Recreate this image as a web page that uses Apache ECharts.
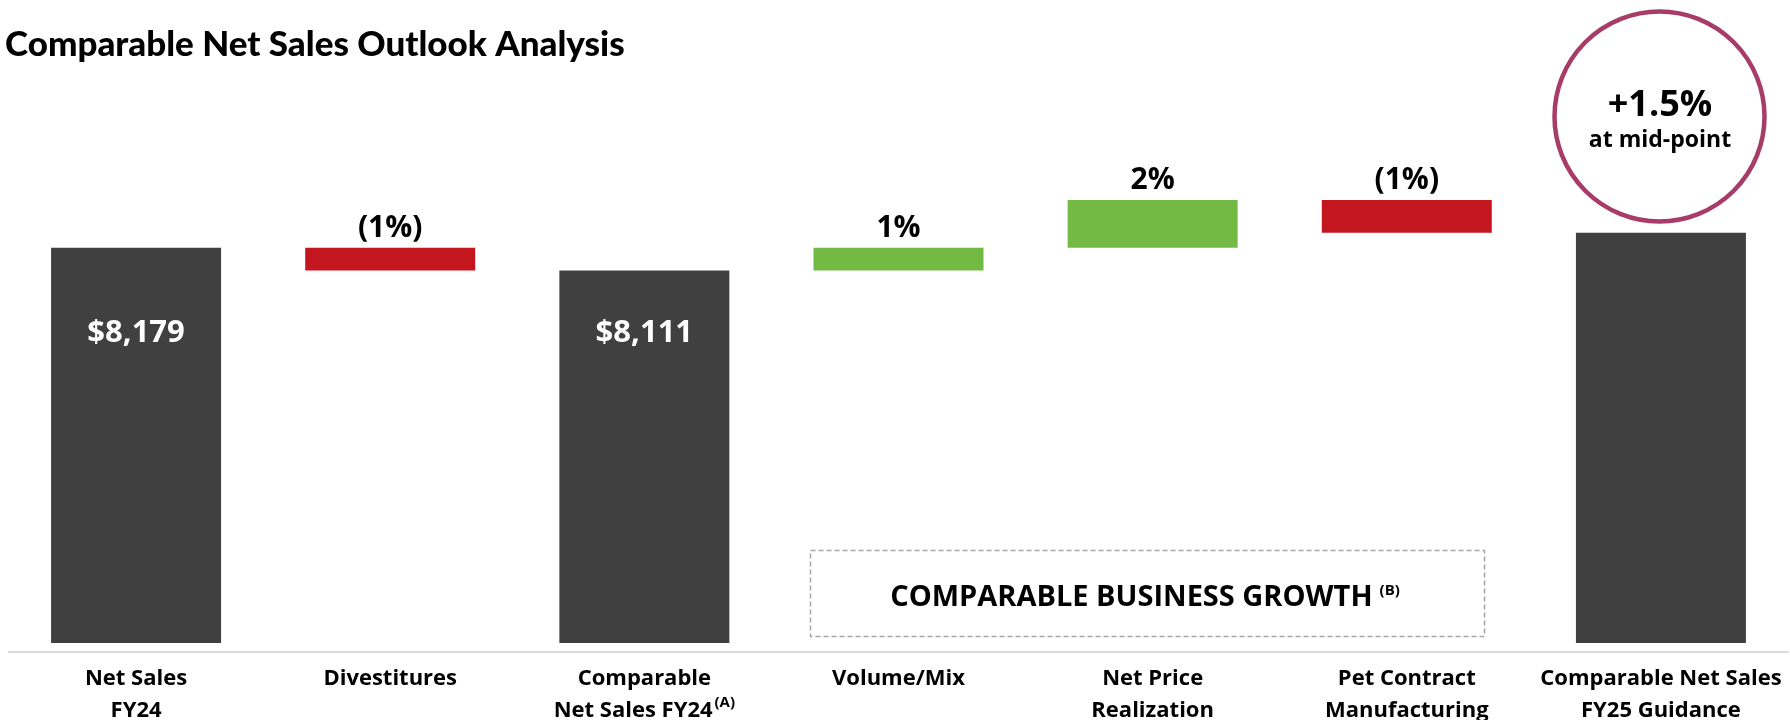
<!DOCTYPE html>
<html>
<head>
<meta charset="utf-8">
<script src="https://cdn.jsdelivr.net/npm/echarts@6/dist/echarts.min.js"></script>
<style>
  html, body { margin: 0; padding: 0; background: #ffffff; }
  #chart { width: 1790px; height: 720px; }
</style>
</head>
<body>
<div id="chart"></div>
<script>
// ---------- data ----------
const categories = [
  'Net Sales\nFY24',
  'Divestitures',
  'Comparable\nNet Sales FY24',
  'Volume/Mix',
  'Net Price\nRealization',
  'Pet Contract\nManufacturing',
  'Comparable Net Sales\nFY25 Guidance'
];
// 'total' = full bar, 'delta' = floating step
const barKinds = ['total', 'delta', 'total', 'delta', 'delta', 'delta', 'total'];
// totals ($M) in order of the total bars
const totalValues = [8179, 8111, 8224];
const totalLabels = ['$8,179', '$8,111', ''];
// step changes ($M) in order of the delta bars
const deltaValues = [-68, 68, 143, -98];
const deltaLabels = ['(1%)', '1%', '2%', '(1%)'];
const guidanceText = '+1.5%';
const guidanceSub = 'at mid-point';
const boxText = 'COMPARABLE BUSINESS GROWTH';

// ---------- build waterfall ----------
const FONT = '"Open Sans", "Noto Sans", sans-serif';
const DARK = '#404040', RED = '#C3161F', GREEN = '#72BA43';
const baseData = [], visData = [];
let running = 0, ti = 0, di = 0;
barKinds.forEach(function (k) {
  if (k === 'total') {
    const v = totalValues[ti];
    const lbl = totalLabels[ti];
    ti++;
    running = v;
    baseData.push(0);
    visData.push({
      value: v,
      itemStyle: { color: DARK },
      label: {
        show: lbl !== '',
        formatter: lbl,
        position: 'insideBottom',
        distance: 294,
        color: '#ffffff',
        fontSize: 31,
        fontWeight: 'bold',
        fontFamily: FONT
      }
    });
  } else {
    const d = deltaValues[di];
    const lbl = deltaLabels[di];
    di++;
    const start = running, end = running + d;
    running = end;
    baseData.push(Math.min(start, end));
    visData.push({
      value: Math.abs(d),
      itemStyle: { color: d < 0 ? RED : GREEN },
      label: {
        show: true,
        formatter: lbl,
        position: 'top',
        distance: 4,
        color: '#000000',
        fontSize: 30,
        fontWeight: 'bold',
        fontFamily: FONT
      }
    });
  }
});

const chart = echarts.init(document.getElementById('chart'), null, { renderer: 'canvas' });
const option = {
  animation: false,
  backgroundColor: '#ffffff',
  title: {
    text: 'Comparable Net Sales Outlook Analysis',
    left: 0,
    top: 22,
    textStyle: { fontFamily: 'Lato, "Open Sans", sans-serif', fontWeight: 900, fontSize: 35, color: '#000000' }
  },
  grid: { left: 9, right: 2, top: 100, bottom: 77, containLabel: false, outerBoundsMode: 'none' },
  xAxis: {
    type: 'category',
    data: categories,
    offset: 9,
    axisTick: { show: false },
    axisLine: { lineStyle: { color: '#D9D9D9', width: 2 } },
    axisLabel: {
      interval: 0,
      margin: 11,
      color: '#000000',
      fontFamily: FONT,
      fontWeight: 'bold',
      fontSize: 22,
      lineHeight: 32,
      formatter: function (v) {
        if (v === 'Comparable\nNet Sales FY24') {
          return 'Comparable\nNet Sales FY24{sup|(A)}';
        }
        return v;
      },
      rich: {
        sup: { fontSize: 15, fontWeight: 'bold', fontFamily: FONT, color: '#000', verticalAlign: 'top', padding: [0, 0, 10, 2] }
      }
    }
  },
  yAxis: {
    type: 'value',
    min: 7000,
    max: 8620,
    show: false,
    splitLine: { show: false }
  },
  series: [
    {
      type: 'bar',
      stack: 'wf',
      barWidth: 170,
      itemStyle: { color: 'transparent' },
      emphasis: { disabled: true },
      data: baseData
    },
    {
      type: 'bar',
      stack: 'wf',
      barWidth: 170,
      emphasis: { disabled: true },
      data: visData
    }
  ],
  graphic: [
    {
      type: 'circle',
      shape: { cx: 1659.5, cy: 116.5, r: 105 },
      style: { fill: 'none', stroke: '#A83C68', lineWidth: 4.5 }
    },
    {
      type: 'text',
      x: 1660, y: 106,
      style: { text: guidanceText, align: 'center', verticalAlign: 'middle', fontFamily: FONT, fontWeight: 'bold', fontSize: 36, fill: '#000' }
    },
    {
      type: 'text',
      x: 1660, y: 140,
      style: { text: guidanceSub, align: 'center', verticalAlign: 'middle', fontFamily: FONT, fontWeight: 'bold', fontSize: 23, fill: '#000' }
    },
    {
      type: 'rect',
      shape: { x: 810.5, y: 550.5, width: 674, height: 86 },
      style: { fill: 'none', stroke: '#A6A6A6', lineWidth: 1.5, lineDash: [5, 3] }
    },
    {
      type: 'text',
      x: 1145, y: 598,
      style: {
        text: '{m|' + boxText + '}{s|(B)}',
        align: 'center', verticalAlign: 'middle',
        rich: {
          m: { fontFamily: FONT, fontWeight: 'bold', fontSize: 29, fill: '#000', color: '#000' },
          s: { fontFamily: FONT, fontWeight: 'bold', fontSize: 15, fill: '#000', color: '#000', verticalAlign: 'top', padding: [0, 0, 14, 7] }
        }
      }
    }
  ]
};
chart.setOption(option);
</script>
</body>
</html>
